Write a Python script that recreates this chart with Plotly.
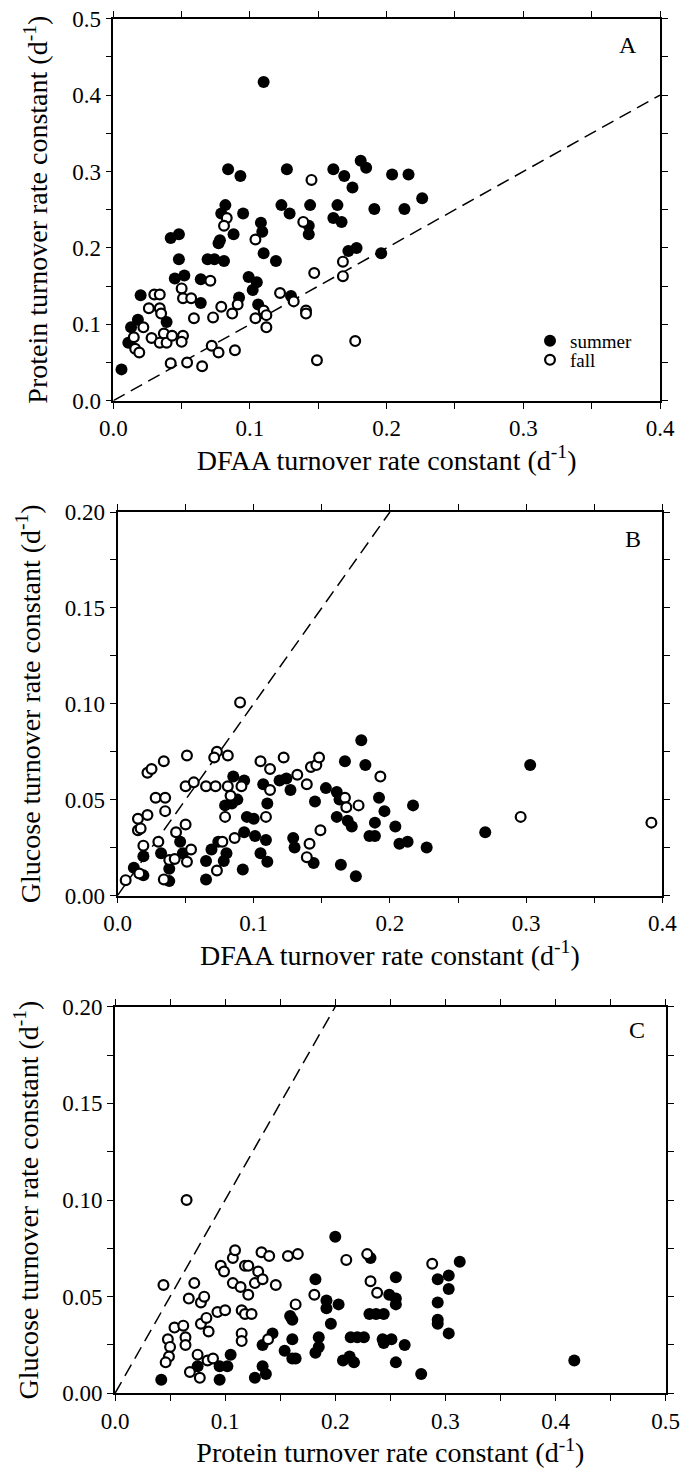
import plotly.graph_objects as go

# ---------------- Panel A: Protein vs DFAA ----------------
a_summer_dfaa = [0.006, 0.110, 0.084, 0.093, 0.127, 0.161, 0.169, 0.175, 0.181,
                 0.082, 0.079, 0.095, 0.123, 0.129, 0.144, 0.164, 0.161, 0.167, 0.143, 0.143,
                 0.108, 0.109, 0.042, 0.048, 0.088, 0.077, 0.078, 0.172, 0.178, 0.048,
                 0.069, 0.074, 0.081, 0.110, 0.119, 0.045, 0.052, 0.064, 0.099, 0.105,
                 0.102, 0.020, 0.064, 0.092, 0.106, 0.039, 0.018, 0.013, 0.011, 0.130,
                 0.185, 0.191, 0.196, 0.204, 0.216, 0.213, 0.226]
a_summer_prot = [0.041, 0.417, 0.303, 0.294, 0.303, 0.303, 0.294, 0.279, 0.314,
                 0.256, 0.245, 0.245, 0.256, 0.245, 0.256, 0.256, 0.239, 0.234, 0.229, 0.218,
                 0.233, 0.221, 0.213, 0.218, 0.218, 0.206, 0.210, 0.196, 0.200, 0.185,
                 0.185, 0.185, 0.183, 0.193, 0.183, 0.160, 0.164, 0.159, 0.162, 0.155,
                 0.145, 0.138, 0.128, 0.135, 0.126, 0.103, 0.106, 0.096, 0.076, 0.137,
                 0.305, 0.251, 0.193, 0.296, 0.296, 0.251, 0.265]

a_fall_dfaa = [0.145, 0.083, 0.081, 0.139, 0.104, 0.168, 0.168, 0.147, 0.071, 0.050,
               0.051, 0.057, 0.030, 0.034, 0.026, 0.034, 0.035, 0.059, 0.079, 0.087,
               0.091, 0.073, 0.122, 0.132, 0.141, 0.141, 0.104, 0.110, 0.112, 0.112,
               0.022, 0.015, 0.028, 0.037, 0.034, 0.039, 0.043, 0.051, 0.050, 0.016,
               0.019, 0.042, 0.054, 0.065, 0.072, 0.077, 0.089, 0.177, 0.149]
a_fall_prot = [0.289, 0.239, 0.229, 0.234, 0.211, 0.182, 0.163, 0.167, 0.157, 0.147,
               0.134, 0.134, 0.139, 0.139, 0.121, 0.121, 0.114, 0.108, 0.123, 0.114,
               0.126, 0.109, 0.141, 0.130, 0.118, 0.114, 0.108, 0.118, 0.112, 0.096,
               0.096, 0.083, 0.082, 0.088, 0.076, 0.076, 0.085, 0.085, 0.077, 0.068,
               0.063, 0.049, 0.050, 0.045, 0.072, 0.063, 0.066, 0.078, 0.053]

# ---------------- Panel B: Glucose vs DFAA ----------------
b_summer_dfaa = [0.012, 0.019, 0.019, 0.032, 0.038, 0.038, 0.046, 0.048, 0.065, 0.065,
                 0.069, 0.074, 0.080, 0.078, 0.092, 0.093, 0.101, 0.109, 0.105, 0.110,
                 0.095, 0.100, 0.079, 0.084, 0.088, 0.085, 0.093, 0.107, 0.110, 0.119,
                 0.124, 0.127, 0.129, 0.130, 0.144, 0.145, 0.153, 0.161, 0.163, 0.161,
                 0.169, 0.172, 0.164, 0.175, 0.167, 0.179, 0.182, 0.189, 0.192, 0.196,
                 0.185, 0.189, 0.204, 0.207, 0.213, 0.217, 0.227, 0.270, 0.303]
b_summer_gluc = [0.0145, 0.0105, 0.0205, 0.022, 0.014, 0.0075, 0.028, 0.022, 0.018, 0.0084,
                 0.024, 0.028, 0.022, 0.018, 0.0136, 0.033, 0.031, 0.029, 0.022, 0.0176,
                 0.041, 0.040, 0.047, 0.048, 0.050, 0.062, 0.060, 0.058, 0.048, 0.060,
                 0.061, 0.055, 0.030, 0.025, 0.017, 0.049, 0.056, 0.054, 0.050, 0.041,
                 0.039, 0.036, 0.016, 0.010, 0.070, 0.081, 0.068, 0.038, 0.051, 0.044,
                 0.031, 0.031, 0.036, 0.027, 0.028, 0.047, 0.025, 0.033, 0.068]

b_fall_dfaa = [0.006, 0.016, 0.034, 0.019, 0.030, 0.015, 0.017, 0.015, 0.022, 0.035,
               0.028, 0.035, 0.022, 0.025, 0.034, 0.051, 0.073, 0.071, 0.081, 0.090,
               0.043, 0.050, 0.038, 0.042, 0.051, 0.054, 0.050, 0.056, 0.065, 0.072,
               0.081, 0.083, 0.091, 0.079, 0.073, 0.077, 0.086, 0.105, 0.112, 0.122,
               0.132, 0.139, 0.142, 0.146, 0.148, 0.112, 0.109, 0.141, 0.139, 0.149,
               0.167, 0.168, 0.177, 0.193, 0.296, 0.392]
b_fall_gluc = [0.008, 0.0115, 0.0084, 0.026, 0.028, 0.034, 0.035, 0.040, 0.042, 0.044,
               0.051, 0.051, 0.064, 0.066, 0.070, 0.073, 0.075, 0.072, 0.073, 0.1007,
               0.033, 0.037, 0.0185, 0.019, 0.0176, 0.024, 0.057, 0.059, 0.057, 0.057,
               0.057, 0.052, 0.057, 0.041, 0.013, 0.028, 0.030, 0.070, 0.066, 0.072,
               0.063, 0.058, 0.067, 0.068, 0.072, 0.055, 0.041, 0.027, 0.020, 0.034,
               0.051, 0.046, 0.047, 0.062, 0.041, 0.038]

# ---------------- Panel C: Glucose vs Protein ----------------
c_summer_prot = [0.042, 0.075, 0.095, 0.095, 0.102, 0.105, 0.127, 0.134, 0.137, 0.134,
                 0.143, 0.154, 0.161, 0.164, 0.161, 0.159, 0.161, 0.182, 0.185, 0.185,
                 0.182, 0.200, 0.232, 0.313, 0.255, 0.293, 0.303, 0.303, 0.192, 0.192,
                 0.203, 0.196, 0.249, 0.255, 0.255, 0.293, 0.231, 0.237, 0.244, 0.293,
                 0.293, 0.303, 0.214, 0.220, 0.226, 0.243, 0.244, 0.251, 0.263, 0.207,
                 0.213, 0.217, 0.255, 0.278, 0.417]
c_summer_gluc = [0.007, 0.014, 0.007, 0.014, 0.014, 0.020, 0.008, 0.014, 0.010, 0.025,
                 0.031, 0.022, 0.018, 0.018, 0.028, 0.040, 0.038, 0.021, 0.029, 0.024,
                 0.059, 0.081, 0.070, 0.068, 0.060, 0.059, 0.061, 0.054, 0.048, 0.044,
                 0.046, 0.036, 0.051, 0.049, 0.046, 0.047, 0.041, 0.041, 0.041, 0.038,
                 0.036, 0.031, 0.029, 0.029, 0.029, 0.028, 0.026, 0.028, 0.025, 0.017,
                 0.019, 0.016, 0.016, 0.010, 0.017]

c_fall_prot = [0.065, 0.044, 0.072, 0.067, 0.078, 0.081, 0.054, 0.062, 0.048, 0.050,
               0.049, 0.046, 0.064, 0.064, 0.078, 0.083, 0.085, 0.075, 0.084, 0.089,
               0.068, 0.077, 0.093, 0.100, 0.096, 0.099, 0.107, 0.109, 0.118, 0.121,
               0.130, 0.133, 0.140, 0.107, 0.114, 0.121, 0.127, 0.134, 0.146, 0.115,
               0.118, 0.124, 0.115, 0.115, 0.139, 0.157, 0.166, 0.181, 0.164, 0.210,
               0.229, 0.288, 0.232, 0.238]
c_fall_gluc = [0.100, 0.056, 0.057, 0.049, 0.047, 0.050, 0.034, 0.035, 0.028, 0.024,
               0.019, 0.016, 0.029, 0.025, 0.036, 0.039, 0.032, 0.020, 0.017, 0.018,
               0.011, 0.008, 0.042, 0.043, 0.066, 0.063, 0.070, 0.074, 0.066, 0.066,
               0.063, 0.073, 0.071, 0.057, 0.055, 0.051, 0.057, 0.059, 0.056, 0.043,
               0.041, 0.041, 0.031, 0.027, 0.028, 0.071, 0.072, 0.051, 0.046, 0.069,
               0.072, 0.067, 0.058, 0.052]

# 1:1 reference lines
line_a = [0.0, 0.4]
line_bc = [0.0, 0.2]

panel_labels = ["A", "B", "C"]
season_names = ["summer", "fall"]

FONT = "Liberation Serif, Times New Roman, serif"
W, H = 683, 1481

summer_marker = dict(symbol="circle", size=12, color="black", line=dict(width=0))
fall_marker = dict(symbol="circle", size=9.8, color="white", line=dict(width=2.2, color="black"))
dash_line = dict(color="black", width=1.5, dash="13px,7px")

fig = go.Figure()

panels = [
    ("x", "y", a_summer_dfaa, a_summer_prot, a_fall_dfaa, a_fall_prot, line_a),
    ("x2", "y2", b_summer_dfaa, b_summer_gluc, b_fall_dfaa, b_fall_gluc, line_bc),
    ("x3", "y3", c_summer_prot, c_summer_gluc, c_fall_prot, c_fall_gluc, line_bc),
]

for i, (xa, ya, sx, sy, fx, fy, ln) in enumerate(panels):
    fig.add_trace(go.Scatter(x=ln, y=ln, mode="lines", line=dash_line,
                             xaxis=xa, yaxis=ya, showlegend=False, hoverinfo="skip"))
    fig.add_trace(go.Scatter(x=sx, y=sy, mode="markers", marker=summer_marker,
                             name=season_names[0], xaxis=xa, yaxis=ya,
                             showlegend=(i == 0), legend="legend"))
    fig.add_trace(go.Scatter(x=fx, y=fy, mode="markers", marker=fall_marker,
                             name=season_names[1], xaxis=xa, yaxis=ya,
                             showlegend=(i == 0), legend="legend2"))


def px_dom_x(a, b):
    return [a / W, b / W]


def px_dom_y(top, bottom):
    return [1 - bottom / H, 1 - top / H]


tickfont = dict(family=FONT, size=23, color="black")
titlefont = dict(family=FONT, size=28, color="black")

common = dict(showline=True, linecolor="black", linewidth=1.6, mirror="ticks",
              ticks="outside", ticklen=6, tickwidth=1.3, tickcolor="black",
              showgrid=False, zeroline=False, tickfont=tickfont)
minor_base = dict(ticks="outside", ticklen=6, tickwidth=1.3, tickcolor="black", showgrid=False)

xt = "DFAA turnover rate constant (d<sup>-1</sup>)"
yt_a = "Protein turnover rate constant (d<sup>-1</sup>)"
yt_g = "Glucose turnover rate constant (d<sup>-1</sup>)"
xt_c = "Protein turnover rate constant (d<sup>-1</sup>)"

layout_axes = dict(
    xaxis=dict(domain=px_dom_x(113.3, 660), range=[0, 0.4], dtick=0.1, tick0=0, tickformat=".1f",
               anchor="y", title=dict(text=xt, font=titlefont, standoff=9),
               minor={**minor_base, "dtick": 0.05}, **common),
    yaxis=dict(domain=px_dom_y(18.7, 400.7), range=[0, 0.5], dtick=0.1, tick0=0, tickformat=".1f",
               anchor="x", title=dict(text=yt_a, font=titlefont, standoff=16),
               minor={**minor_base, "dtick": 0.05}, **common),
    xaxis2=dict(domain=px_dom_x(117.5, 662.3), range=[0, 0.4], dtick=0.1, tick0=0, tickformat=".1f",
                anchor="y2", title=dict(text=xt, font=titlefont, standoff=9),
                minor={**minor_base, "dtick": 0.05}, **common),
    yaxis2=dict(domain=px_dom_y(512, 895.5), range=[0, 0.2], dtick=0.05, tick0=0, tickformat=".2f",
                anchor="x2", title=dict(text=yt_g, font=titlefont, standoff=16),
                minor={**minor_base, "dtick": 0.025}, **common),
    xaxis3=dict(domain=px_dom_x(115, 665.7), range=[0, 0.5], dtick=0.1, tick0=0, tickformat=".1f",
                anchor="y3", title=dict(text=xt_c, font=titlefont, standoff=9),
                minor={**minor_base, "dtick": 0.05}, **common),
    yaxis3=dict(domain=px_dom_y(1006.7, 1393.3), range=[0, 0.2], dtick=0.05, tick0=0, tickformat=".2f",
                anchor="x3", title=dict(text=yt_g, font=titlefont, standoff=16),
                minor={**minor_base, "dtick": 0.025}, **common),
)

annotations = []
label_pos = [(0.941, 0.932), (0.947, 0.930), (0.948, 0.939)]
for lab, (ax, ay), xr, yr in zip(panel_labels, label_pos, ["x", "x2", "x3"], ["y", "y2", "y3"]):
    annotations.append(dict(text=lab, xref=xr + " domain", yref=yr + " domain", x=ax, y=ay,
                            xanchor="center", yanchor="middle", showarrow=False,
                            font=dict(family=FONT, size=24, color="black")))

legend_font = dict(family=FONT, size=19, color="black")
fig.update_layout(
    width=W, height=H,
    margin=dict(l=0, r=0, t=0, b=0, autoexpand=False),
    paper_bgcolor="white", plot_bgcolor="white",
    font=dict(family=FONT, color="black"),
    annotations=annotations,
    legend=dict(x=530 / W, y=1 - 322 / H, xanchor="left", yanchor="top", font=legend_font,
                bgcolor="rgba(0,0,0,0)", borderwidth=0, itemclick=False),
    legend2=dict(x=530 / W, y=1 - 341 / H, xanchor="left", yanchor="top", font=legend_font,
                 bgcolor="rgba(0,0,0,0)", borderwidth=0, itemclick=False),
    **layout_axes,
)

# remove the browser's default 8px body margin so the figure sits at the page origin
fig.write_html("out.html", config={"displayModeBar": False},
               post_script="document.body.style.margin='0px';")
